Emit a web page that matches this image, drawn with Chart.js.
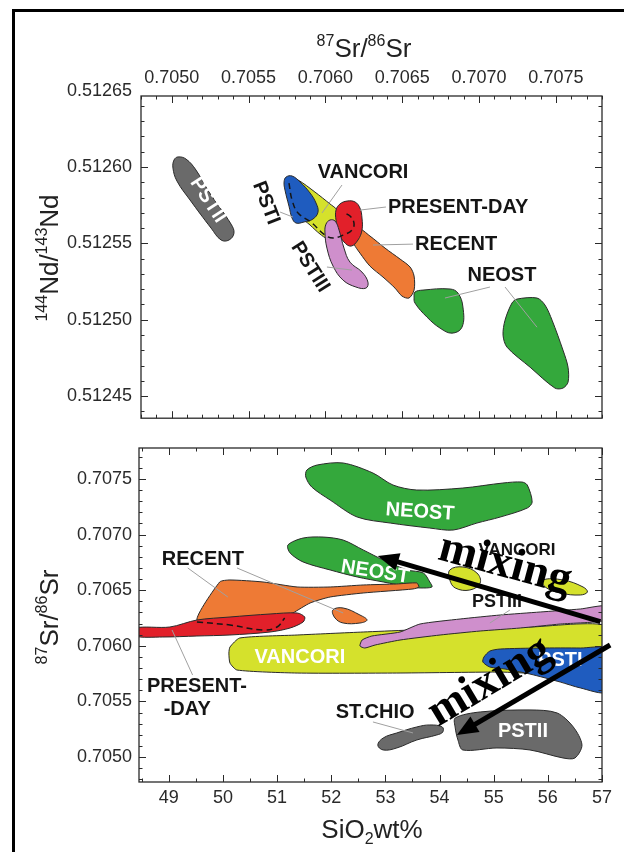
<!DOCTYPE html>
<html>
<head>
<meta charset="utf-8">
<script src="https://cdn.jsdelivr.net/npm/chart.js@4.4.1/dist/chart.umd.min.js"></script>
<style>
  html, body { margin: 0; padding: 0; background: #fff; width: 624px; height: 852px; overflow: hidden; }
  #frame { position: absolute; left: 12px; top: 9px; width: 612px; height: 843px;
           border-left: 3px solid #000; border-top: 3px solid #000; box-sizing: border-box; }
  #ndChart { position: absolute; left: 0; top: 0; }
  #srChart { position: absolute; left: 0; top: 430px; }
</style>
</head>
<body>
<div id="frame"></div>
<canvas id="ndChart" width="624" height="438"></canvas>
<canvas id="srChart" width="624" height="422"></canvas>
<script>
// ---------- Upper diagram: 87Sr/86Sr (x) vs 144Nd/143Nd (y), fields as [Sr, Nd] ----------
const ndPSTII = [[0.705041,0.5126066],[0.705093,0.5126052],[0.705158,0.5125980],[0.705243,0.5125836],[0.705386,0.5125626],[0.705405,0.5125567],[0.705373,0.5125522],[0.705321,0.5125522],[0.705256,0.5125600],[0.705119,0.5125784],[0.705034,0.5125908],[0.705008,0.5125993],[0.705015,0.5126046]];
const ndVANCORI = [[0.705770,0.5125928],[0.705822,0.5125915],[0.705932,0.5125836],[0.706030,0.5125758],[0.706076,0.5125718],[0.706089,0.5125653],[0.706056,0.5125574],[0.706010,0.5125535],[0.705965,0.5125561],[0.705900,0.5125620],[0.705835,0.5125679],[0.705783,0.5125784],[0.705757,0.5125875]];
const ndRECENT = [[0.706212,0.5125600],[0.706290,0.5125548],[0.706388,0.5125469],[0.706486,0.5125397],[0.706551,0.5125345],[0.706577,0.5125286],[0.706577,0.5125194],[0.706544,0.5125142],[0.706498,0.5125155],[0.706453,0.5125207],[0.706375,0.5125279],[0.706290,0.5125351],[0.706225,0.5125436],[0.706186,0.5125495],[0.706173,0.5125548]];
const ndPSTI = [[0.705744,0.5125934],[0.705783,0.5125941],[0.705835,0.5125902],[0.705900,0.5125830],[0.705939,0.5125764],[0.705952,0.5125705],[0.705919,0.5125659],[0.705861,0.5125640],[0.705809,0.5125633],[0.705783,0.5125666],[0.705763,0.5125744],[0.705737,0.5125849],[0.705731,0.5125902]];
const ndPRESENT = [[0.706095,0.5125758],[0.706141,0.5125777],[0.706193,0.5125771],[0.706225,0.5125731],[0.706238,0.5125666],[0.706238,0.5125587],[0.706212,0.5125522],[0.706167,0.5125482],[0.706121,0.5125509],[0.706089,0.5125567],[0.706069,0.5125653],[0.706069,0.5125718]];
const ndPSTIII = [[0.706030,0.5125653],[0.706063,0.5125646],[0.706089,0.5125587],[0.706121,0.5125469],[0.706160,0.5125377],[0.706238,0.5125312],[0.706277,0.5125246],[0.706264,0.5125207],[0.706199,0.5125214],[0.706115,0.5125259],[0.706050,0.5125351],[0.706010,0.5125469],[0.705997,0.5125574],[0.706004,0.5125626]];
const ndNEOST1 = [[0.706583,0.5125181],[0.706635,0.5125194],[0.706811,0.5125201],[0.706863,0.5125174],[0.706895,0.5125083],[0.706889,0.5124951],[0.706824,0.5124912],[0.706746,0.5124945],[0.706661,0.5125017],[0.706583,0.5125109],[0.706577,0.5125148]];
const ndNEOST2 = [[0.707247,0.5125135],[0.707377,0.5125142],[0.707429,0.5125096],[0.707475,0.5124997],[0.707546,0.5124801],[0.707579,0.5124689],[0.707579,0.5124591],[0.707546,0.5124552],[0.707494,0.5124552],[0.707332,0.5124689],[0.707182,0.5124820],[0.707156,0.5124899],[0.707169,0.5124997],[0.707214,0.5125109]];
const ndDashed = [[0.705763,0.5125895],[0.705783,0.5125784],[0.705822,0.5125699],[0.705913,0.5125633],[0.705997,0.5125554],[0.706050,0.5125535],[0.706115,0.5125554],[0.706173,0.5125587],[0.706186,0.5125633],[0.706160,0.5125679],[0.706121,0.5125699]];
const ndLeaders = [
  [[0.706108,0.5125882],[0.705978,0.5125699]],
  [[0.706394,0.5125738],[0.706225,0.5125718]],
  [[0.706570,0.5125495],[0.706310,0.5125489]],
  [[0.707071,0.5125214],[0.706778,0.5125142]],
  [[0.707169,0.5125214],[0.707377,0.5124951]],
  [[0.705705,0.5125705],[0.705789,0.5125672]],
  [[0.706010,0.5125345],[0.706173,0.5125325]]
];
const ndSrTicks = [0.7050, 0.7055, 0.7060, 0.7065, 0.7070, 0.7075];
const ndNdTicks = [0.51245, 0.51250, 0.51255, 0.51260, 0.51265];

// ---------- Lower diagram: SiO2 wt% (x) vs 87Sr/86Sr (y), fields as [SiO2, Sr] ----------
const srNEOSTa = [[51.55,0.707581],[51.74,0.707626],[52.22,0.707644],[52.77,0.707554],[53.14,0.707446],[53.58,0.707401],[54.43,0.707419],[55.17,0.707464],[55.52,0.707473],[55.62,0.707446],[55.71,0.707293],[55.62,0.707239],[55.12,0.707158],[54.69,0.707104],[54.25,0.707041],[53.82,0.707059],[53.09,0.707104],[52.48,0.707158],[51.98,0.707311],[51.64,0.707428],[51.53,0.707518]];
const srNEOSTb = [[51.20,0.706907],[51.48,0.706969],[51.85,0.706978],[52.22,0.706951],[52.59,0.706862],[52.96,0.706772],[53.40,0.706682],[53.70,0.706655],[53.82,0.706574],[53.86,0.706529],[53.64,0.706520],[53.45,0.706529],[52.96,0.706574],[52.48,0.706619],[51.98,0.706682],[51.48,0.706754],[51.24,0.706835]];
const srRECENTa = [[49.52,0.706232],[49.94,0.706574],[50.13,0.706592],[50.74,0.706574],[51.37,0.706529],[51.98,0.706529],[52.59,0.706547],[53.21,0.706556],[53.58,0.706565],[53.62,0.706529],[53.51,0.706511],[52.59,0.706475],[51.98,0.706439],[51.61,0.706385],[51.29,0.706295],[50.92,0.706214],[50.13,0.706205]];
const srRECENTb = [[52.03,0.706322],[52.22,0.706340],[52.53,0.706277],[52.66,0.706232],[52.53,0.706205],[52.22,0.706205],[52.07,0.706250]];
const srPRESENT = [[48.37,0.706160],[49.02,0.706169],[49.52,0.706232],[50.13,0.706259],[50.87,0.706286],[51.37,0.706295],[51.51,0.706259],[51.48,0.706214],[51.24,0.706160],[50.87,0.706124],[50.13,0.706097],[49.52,0.706088],[48.89,0.706079],[48.37,0.706088]];
const srVANCORIa = [[50.13,0.705989],[50.31,0.706070],[51.37,0.706097],[52.59,0.706124],[54.43,0.706160],[55.67,0.706169],[57.08,0.706178],[57.08,0.705764],[55.06,0.705764],[53.21,0.705755],[51.37,0.705755],[50.26,0.705782],[50.13,0.705845],[50.11,0.705935]];
const srPSTIII = [[52.53,0.705998],[52.57,0.706052],[52.75,0.706088],[53.27,0.706124],[53.64,0.706196],[54.38,0.706241],[55.12,0.706277],[55.86,0.706304],[56.60,0.706331],[57.08,0.706358],[57.08,0.706232],[56.23,0.706196],[55.49,0.706160],[54.75,0.706133],[54.01,0.706097],[53.27,0.706052],[52.81,0.706007],[52.62,0.705980]];
const srPSTI = [[54.82,0.705899],[54.93,0.705953],[55.12,0.705971],[55.86,0.705980],[56.60,0.705980],[57.08,0.705971],[57.08,0.705585],[56.60,0.705621],[56.23,0.705674],[55.67,0.705746],[55.21,0.705791],[54.93,0.705809],[54.80,0.705854]];
const srVANCORIb = [[54.19,0.706682],[54.43,0.706709],[54.69,0.706655],[54.75,0.706565],[54.56,0.706502],[54.29,0.706520],[54.19,0.706592]];
const srVANCORIc = [[55.91,0.706592],[56.28,0.706592],[56.65,0.706529],[56.73,0.706484],[56.60,0.706457],[56.23,0.706475],[55.95,0.706529]];
const srSTCHIO = [[52.86,0.705108],[52.96,0.705171],[53.21,0.705216],[53.58,0.705270],[53.82,0.705288],[54.05,0.705270],[54.06,0.705225],[53.95,0.705198],[53.58,0.705153],[53.21,0.705081],[52.96,0.705063]];
const srPSTII = [[54.29,0.705351],[54.75,0.705405],[55.67,0.705423],[56.17,0.705396],[56.47,0.705270],[56.63,0.705108],[56.50,0.704991],[56.28,0.704991],[55.67,0.705063],[55.06,0.705081],[54.43,0.705063],[54.34,0.705153],[54.29,0.705261]];
const srDashed = [[49.52,0.706214],[50.13,0.706187],[50.74,0.706142],[51.00,0.706169],[51.14,0.706250]];
const srLeaders = [
  [[49.35,0.706700],[50.09,0.706439]],
  [[50.26,0.706700],[52.22,0.706295]],
  [[49.44,0.705737],[49.06,0.706142]],
  [[52.77,0.705315],[53.51,0.705216]],
  [[55.30,0.706322],[54.93,0.706205]]
];
const sioTicks = [49, 50, 51, 52, 53, 54, 55, 56, 57];
const srTicks = [0.7050, 0.7055, 0.7060, 0.7065, 0.7070, 0.7075];

// mixing trends (tail -> head) in SiO2 / Sr units
const mixArrows = [
  [[56.97, 0.706217], [52.86, 0.706808]],
  [[57.15, 0.706007], [54.32, 0.705198]]
];

// ---------- text placed on the diagrams ----------
const ndLabels = [
  { t: 'VANCORI', x: 0.706245, y: 0.5125961 },
  { t: 'PRESENT-DAY', x: 0.706407, y: 0.5125738, align: 'left' },
  { t: 'RECENT', x: 0.706583, y: 0.5125495, align: 'left' },
  { t: 'NEOST', x: 0.707149, y: 0.5125292 },
  { t: 'PSTI', x: 0.705613, y: 0.5125764, rot: 69 },
  { t: 'PSTIII', x: 0.705900, y: 0.5125345, rot: 58 },
  { t: 'PSTII', x: 0.705236, y: 0.5125784, rot: 57, color: '#fff' }
];
const srLabels = [
  { t: 'RECENT', x: 49.63, y: 0.706772 },
  { t: 'NEOST', x: 53.64, y: 0.707203, rot: 4, color: '#fff' },
  { t: 'NEOST', x: 52.81, y: 0.706664, rot: 9, color: '#fff' },
  { t: 'VANCORI', x: 51.42, y: 0.705899, color: '#fff' },
  { t: 'VANCORI', x: 55.43, y: 0.706862, size: 17 },
  { t: 'PSTIII', x: 55.06, y: 0.706394, size: 18 },
  { t: 'PSTI', x: 56.23, y: 0.705872, color: '#fff' },
  { t: 'PSTII', x: 55.54, y: 0.705225, color: '#fff' },
  { t: 'ST.CHIO', x: 52.81, y: 0.705396 },
  { t: 'PRESENT-', x: 49.52, y: 0.705630 },
  { t: '-DAY', x: 49.34, y: 0.705423 }
];
const mixLabels = [
  { t: 'mixing', x: 55.21, y: 0.706727, rot: 15 },
  { t: 'mixing', x: 54.93, y: 0.705674, rot: -31 }
];

// ---------- colours ----------
const C = {
  grey: '#6a6a6a', blue: '#1f5cbf', yellow: '#d5e12c', red: '#e2202a',
  pink: '#cf8fcc', orange: '#ee7a35', green: '#34a83c'
};
const SANS = '"Liberation Sans", Arial, Helvetica, sans-serif';

// ---------- dataset builders ----------
const pts = pairs => pairs.map(([x, y]) => ({ x, y }));
const field = (pairs, color, tension = 0.4) => ({
  data: pts(pairs), closed: true, showLine: true, fill: 'shape',
  backgroundColor: color, borderColor: '#2a2a2a', borderWidth: 1,
  pointRadius: 0, tension
});
const dashed = pairs => ({
  data: pts(pairs), showLine: true, fill: false, borderColor: '#151515',
  borderWidth: 1.5, borderDash: [6, 4], pointRadius: 0, tension: 0.4
});
const leader = pairs => ({
  data: pts(pairs), showLine: true, fill: false, borderColor: '#a0a0a0',
  borderWidth: 1, pointRadius: 0, tension: 0
});
// later entries are painted above earlier ones
const stack = list => list.map((d, i) => Object.assign(d, { order: list.length - i }));

// closed fields: turn the line element into a smooth loop
const closeLoops = {
  id: 'closeLoops',
  afterDatasetsUpdate(chart) {
    chart.data.datasets.forEach((ds, i) => {
      if (!ds.closed) return;
      const line = chart.getDatasetMeta(i).dataset;
      line._loop = true;
      line._fullLoop = true;
      delete line._segments;
      line._path = undefined;
      line._pointsUpdated = false;
    });
  }
};

// ---------- drawing helpers ----------
function valuesByStep(min, max, step) {
  const out = [];
  const a = Math.ceil(min / step - 1e-6), b = Math.floor(max / step + 1e-6);
  for (let n = a; n <= b; n++) out.push(n * step);
  return out;
}
function drawFrame(chart, xMajor, xStep, yMajor, yStep) {
  const { ctx, chartArea: a, scales: { x, y } } = chart;
  ctx.save();
  ctx.strokeStyle = '#2a2a2a';
  ctx.lineWidth = 1.3;
  ctx.strokeRect(a.left, a.top, a.right - a.left, a.bottom - a.top);
  ctx.lineWidth = 1;
  ctx.beginPath();
  const xt = (v, len) => {
    const p = Math.round(x.getPixelForValue(v)) + 0.5;
    if (p < a.left - 1 || p > a.right + 1) return;
    ctx.moveTo(p, a.top); ctx.lineTo(p, a.top + len);
    ctx.moveTo(p, a.bottom); ctx.lineTo(p, a.bottom - len);
  };
  const yt = (v, len) => {
    const p = Math.round(y.getPixelForValue(v)) + 0.5;
    if (p < a.top - 1 || p > a.bottom + 1) return;
    ctx.moveTo(a.left, p); ctx.lineTo(a.left + len, p);
    ctx.moveTo(a.right, p); ctx.lineTo(a.right - len, p);
  };
  valuesByStep(x.min, x.max, xStep).forEach(v => xt(v, 3.5));
  xMajor.forEach(v => xt(v, 7));
  valuesByStep(y.min, y.max, yStep).forEach(v => yt(v, 3.5));
  yMajor.forEach(v => yt(v, 7));
  ctx.stroke();
  ctx.restore();
}
function drawLabels(chart, labels, defaultSize = 20) {
  const { ctx, scales: { x, y } } = chart;
  for (const L of labels) {
    ctx.save();
    ctx.translate(x.getPixelForValue(L.x), y.getPixelForValue(L.y));
    ctx.rotate((L.rot || 0) * Math.PI / 180);
    ctx.font = `bold ${L.size || defaultSize}px ${SANS}`;
    ctx.fillStyle = L.color || '#151515';
    ctx.textAlign = L.align || 'center';
    ctx.textBaseline = 'middle';
    ctx.fillText(L.t, 0, 0);
    ctx.restore();
  }
}
// text with superscript (1) / subscript (-1) pieces
function richText(ctx, parts, cx, cy, rot, size) {
  const small = Math.round(size * 0.6);
  const fN = `${size}px ${SANS}`, fS = `${small}px ${SANS}`;
  ctx.save();
  ctx.translate(cx, cy);
  ctx.rotate(rot);
  ctx.fillStyle = '#222';
  ctx.textAlign = 'left';
  ctx.textBaseline = 'alphabetic';
  let w = 0;
  for (const [t, k] of parts) { ctx.font = k ? fS : fN; w += ctx.measureText(t).width; }
  let xx = -w / 2;
  for (const [t, k] of parts) {
    ctx.font = k ? fS : fN;
    const dy = k === 1 ? -size * 0.42 : k === -1 ? size * 0.24 : 0;
    ctx.fillText(t, xx, dy);
    xx += ctx.measureText(t).width;
  }
  ctx.restore();
}
function drawArrow(ctx, x0, y0, x1, y1) {
  const ang = Math.atan2(y1 - y0, x1 - x0);
  const head = 21, hw = 9;
  const bx = x1 - head * Math.cos(ang), by = y1 - head * Math.sin(ang);
  ctx.save();
  ctx.strokeStyle = '#000'; ctx.fillStyle = '#000';
  ctx.lineWidth = 5; ctx.lineCap = 'butt';
  ctx.beginPath(); ctx.moveTo(x0, y0); ctx.lineTo(bx + 2 * Math.cos(ang), by + 2 * Math.sin(ang)); ctx.stroke();
  ctx.beginPath();
  ctx.moveTo(x1, y1);
  ctx.lineTo(bx - hw * Math.sin(ang), by + hw * Math.cos(ang));
  ctx.lineTo(bx + hw * Math.sin(ang), by - hw * Math.cos(ang));
  ctx.closePath(); ctx.fill();
  ctx.restore();
}

const axisFont = { family: SANS, size: 18 };
const tickList = list => s => { s.ticks = list.map(v => ({ value: v })); };
const noGrid = { display: false, drawTicks: false };

// ---------- upper diagram ----------
const ndDatasets = stack([
  field(ndPSTII, C.grey),
  field(ndVANCORI, C.yellow, 0.3),
  field(ndRECENT, C.orange, 0.3),
  field(ndPSTI, C.blue),
  field(ndPRESENT, C.red),
  field(ndPSTIII, C.pink),
  field(ndNEOST1, C.green),
  field(ndNEOST2, C.green, 0.3),
  dashed(ndDashed),
  ...ndLeaders.map(leader)
]);

new Chart(document.getElementById('ndChart'), {
  type: 'scatter',
  data: { datasets: ndDatasets },
  options: {
    responsive: false, animation: false, devicePixelRatio: 1, events: [],
    layout: { padding: { left: 0, top: 0, right: 22, bottom: 0 } },
    plugins: { legend: { display: false }, tooltip: { enabled: false } },
    scales: {
      x: {
        type: 'linear', position: 'top', min: 0.7048, max: 0.7078,
        afterBuildTicks: tickList(ndSrTicks),
        afterFit: s => { s.height = 96; },
        ticks: { callback: v => v.toFixed(4), font: axisFont, color: '#2a2a2a', padding: 7, autoSkip: false, maxRotation: 0 },
        grid: noGrid, border: { display: false }
      },
      y: {
        type: 'linear', position: 'left', min: 0.5124355, max: 0.5126465,
        afterBuildTicks: tickList(ndNdTicks),
        afterFit: s => { s.width = 141; },
        ticks: { callback: v => v.toFixed(5), font: axisFont, color: '#2a2a2a', padding: 9, autoSkip: false },
        grid: noGrid, border: { display: false }
      }
    }
  },
  plugins: [closeLoops, {
    id: 'ndDecor',
    afterDraw(chart) {
      drawFrame(chart, ndSrTicks, 0.0001, ndNdTicks, 0.00001);
      drawLabels(chart, ndLabels);
      const ctx = chart.ctx;
      richText(ctx, [['87', 1], ['Sr/', 0], ['86', 1], ['Sr', 0]], 364, 57, 0, 26);
      richText(ctx, [['144', 1], ['Nd/', 0], ['143', 1], ['Nd', 0]], 58, 258, -Math.PI / 2, 26);
    }
  }]
});

// ---------- lower diagram ----------
const srDatasets = stack([
  field(srNEOSTa, C.green, 0.3),
  field(srNEOSTb, C.green, 0.3),
  field(srRECENTa, C.orange, 0.2),
  field(srRECENTb, C.orange),
  field(srPRESENT, C.red, 0.3),
  field(srVANCORIa, C.yellow, 0.2),
  field(srPSTIII, C.pink, 0.2),
  field(srPSTI, C.blue, 0.25),
  field(srVANCORIb, C.yellow),
  field(srVANCORIc, C.yellow),
  field(srSTCHIO, C.grey),
  field(srPSTII, C.grey, 0.3),
  dashed(srDashed),
  ...srLeaders.map(leader)
]);

new Chart(document.getElementById('srChart'), {
  type: 'scatter',
  data: { datasets: srDatasets },
  options: {
    responsive: false, animation: false, devicePixelRatio: 1, events: [],
    layout: { padding: { left: 0, top: 18, right: 22, bottom: 0 } },
    plugins: { legend: { display: false }, tooltip: { enabled: false } },
    scales: {
      x: {
        type: 'linear', position: 'bottom', min: 48.45, max: 57.0,
        afterBuildTicks: tickList(sioTicks),
        afterFit: s => { s.height = 70; },
        ticks: { callback: v => String(v), font: axisFont, color: '#2a2a2a', padding: 5, autoSkip: false, maxRotation: 0 },
        grid: noGrid, border: { display: false }
      },
      y: {
        type: 'linear', position: 'left', min: 0.704775, max: 0.707779,
        afterBuildTicks: tickList(srTicks),
        afterFit: s => { s.width = 139; },
        ticks: { callback: v => v.toFixed(4), font: axisFont, color: '#2a2a2a', padding: 7, autoSkip: false },
        grid: noGrid, border: { display: false }
      }
    }
  },
  plugins: [closeLoops, {
    id: 'srDecor',
    afterDraw(chart) {
      const { ctx, scales: { x, y } } = chart;
      drawFrame(chart, sioTicks, 0.5, srTicks, 0.0001);
      drawLabels(chart, srLabels);
      for (const [[a, b], [c, d]] of mixArrows) {
        drawArrow(ctx, x.getPixelForValue(a), y.getPixelForValue(b), x.getPixelForValue(c), y.getPixelForValue(d));
      }
      for (const L of mixLabels) {
        ctx.save();
        ctx.translate(x.getPixelForValue(L.x), y.getPixelForValue(L.y));
        ctx.rotate(L.rot * Math.PI / 180);
        ctx.font = 'bold 46px "Liberation Serif", "Times New Roman", serif';
        ctx.fillStyle = '#000';
        ctx.textAlign = 'center';
        ctx.textBaseline = 'middle';
        ctx.fillText(L.t, 0, 0);
        ctx.restore();
      }
      richText(ctx, [['87', 1], ['Sr/', 0], ['86', 1], ['Sr', 0]], 58, 187, -Math.PI / 2, 26);
      richText(ctx, [['SiO', 0], ['2', -1], ['wt%', 0]], 372, 408, 0, 26);
    }
  }]
});
</script>
</body>
</html>
